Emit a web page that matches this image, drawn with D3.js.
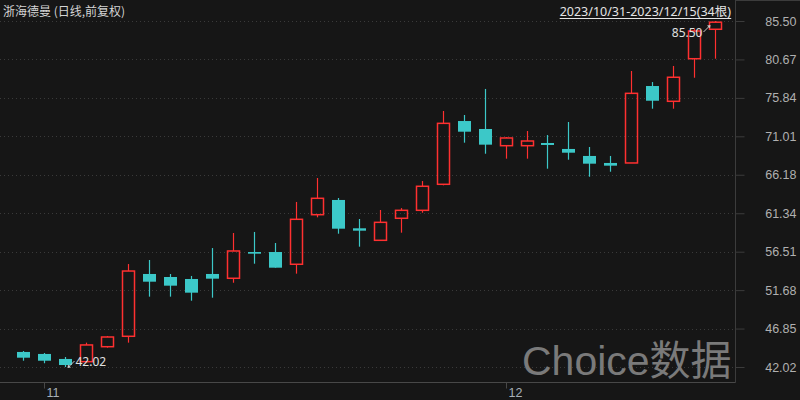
<!DOCTYPE html>
<html>
<head>
<meta charset="utf-8">
<script src="https://cdn.jsdelivr.net/npm/d3@7"></script>
<style>
  html, body { margin: 0; padding: 0; background: #161616; }
  svg { display: block; }
</style>
</head>
<body>
<div id="chart"></div>
<script>
// trading days 2023/10/31 - 2023/12/15
const dates = ["2023-10-31","2023-11-01","2023-11-02","2023-11-03","2023-11-06","2023-11-07","2023-11-08","2023-11-09","2023-11-10",
  "2023-11-13","2023-11-14","2023-11-15","2023-11-16","2023-11-17","2023-11-20","2023-11-21","2023-11-22","2023-11-23","2023-11-24",
  "2023-11-27","2023-11-28","2023-11-29","2023-11-30","2023-12-01","2023-12-04","2023-12-05","2023-12-06","2023-12-07","2023-12-08",
  "2023-12-11","2023-12-12","2023-12-13","2023-12-14","2023-12-15"];
const open  = [43.91,43.66,43.03,42.69,44.57,45.88,53.71,53.33,53.08,53.71,53.17,56.47,56.47,54.93,61.16,63.01,59.45,57.94,60.71,61.71,
  64.98,72.93,71.93,69.83,69.83,70.17,69.42,68.54,67.66,67.66,77.33,75.41,80.76,84.46];
const high  = [44.03,43.78,43.28,45.08,45.92,54.96,55.47,53.71,53.46,56.97,58.86,58.99,57.60,62.76,65.77,63.26,60.62,61.75,61.99,65.39,
  74.19,73.69,76.96,70.92,71.68,71.17,72.81,69.67,68.54,79.22,77.83,79.85,84.49,85.50];
const low   = [42.81,42.49,42.02,42.65,44.45,45.08,50.86,50.86,50.35,50.73,52.61,55.00,54.50,53.75,60.83,58.77,57.14,57.94,58.90,61.41,
  64.85,70.21,68.82,68.20,68.20,66.94,68.07,65.93,66.56,67.66,74.48,74.48,78.37,80.76];
const close = [43.19,42.81,42.27,44.79,45.79,54.08,52.74,52.24,51.36,53.12,56.60,56.26,54.50,60.58,63.22,59.40,59.15,60.20,61.71,64.73,
  72.64,71.59,69.96,70.80,70.42,69.92,68.95,67.57,67.32,76.41,75.48,78.43,84.24,85.35];
const yTicks = [42.02,46.85,51.68,56.51,61.34,66.18,71.01,75.84,80.67,85.50];
const monthLabels = ["11","12"];

const width = 800, height = 400;
const up = "#ff3030", down = "#3cc8c8";
const plotRight = 735.5, plotBottom = 382.5;

const bars = dates.map((d, i) => ({ date: d, o: open[i], h: high[i], l: low[i], c: close[i] }));

const svg = d3.select("#chart").append("svg")
  .attr("width", width).attr("height", height)
  .style("font-family", "'Noto Sans', 'Noto Sans CJK SC', sans-serif");

const x = d3.scaleBand().domain(dates).range([13, 13 + 34 * 20.96]).padding(0);
const y = d3.scaleLinear().domain([42.02, 85.50]).range([367, 21]);
const bw = 12;
const cx = d => Math.round(x(d) + x.bandwidth() / 2) + 0.5;

// grid
svg.append("g").selectAll("line").data(yTicks).join("line")
  .attr("x1", 0).attr("x2", plotRight)
  .attr("y1", d => Math.round(y(d)) + 0.5).attr("y2", d => Math.round(y(d)) + 0.5)
  .attr("stroke", "#3a3a3a").attr("stroke-dasharray", "1,3");

// watermark
svg.append("text").attr("x", 522).attr("y", 375)
  .attr("fill", "#7a7a7a").style("font-size", "41px")
  .style("font-family", "'Liberation Sans', 'Noto Sans CJK SC', sans-serif")
  .text("Choice数据");

// frame
svg.append("line").attr("x1", plotRight).attr("x2", plotRight).attr("y1", 0).attr("y2", plotBottom)
  .attr("stroke", "#3c3c3c");
svg.append("line").attr("x1", 0).attr("x2", plotRight).attr("y1", plotBottom).attr("y2", plotBottom)
  .attr("stroke", "#484848");
svg.append("line").attr("x1", plotRight).attr("x2", width).attr("y1", 0.5).attr("y2", 0.5)
  .attr("stroke", "#3c3c3c");

// right axis
const yAxis = svg.append("g")
  .attr("transform", `translate(${plotRight},0)`)
  .call(d3.axisRight(y).tickValues(yTicks).tickFormat(d3.format(".2f")).tickSize(9).tickPadding(22));
yAxis.select(".domain").remove();
yAxis.selectAll(".tick line").attr("stroke", "#3c3c3c");
yAxis.selectAll(".tick text").attr("fill", "#b0b0b0").style("font-size", "12.5px")
  .attr("text-anchor", "end").attr("x", 61);

// bottom axis: first trading day of each month
const firstOfMonth = dates.filter((d, i) => i > 0 && d.slice(5, 7) !== dates[i - 1].slice(5, 7));
const xAxis = svg.append("g")
  .attr("transform", `translate(0,${plotBottom})`)
  .call(d3.axisBottom(x).tickValues(firstOfMonth).tickSize(6)
    .tickFormat((d, i) => monthLabels[i]));
xAxis.select(".domain").remove();
xAxis.selectAll(".tick").attr("transform", d => `translate(${cx(d)},0)`);
xAxis.selectAll(".tick line").attr("stroke", "#484848");
xAxis.selectAll(".tick text").attr("fill", "#a8b0b8").style("font-size", "12.5px")
  .attr("text-anchor", "start").attr("x", 2).attr("y", 6);

// candles
const g = svg.append("g");
bars.forEach(b => {
  const c = cx(b.date);
  const rising = b.c >= b.o;
  const top = y(Math.max(b.o, b.c)), bot = y(Math.min(b.o, b.c));
  if (rising) {
    g.append("line").attr("x1", c).attr("x2", c).attr("y1", y(b.h)).attr("y2", top)
      .attr("stroke", up).attr("stroke-width", 1.2);
    g.append("line").attr("x1", c).attr("x2", c).attr("y1", bot).attr("y2", y(b.l))
      .attr("stroke", up).attr("stroke-width", 1.2);
    g.append("rect").attr("x", c - bw / 2).attr("y", top)
      .attr("width", bw).attr("height", Math.max(1, bot - top))
      .attr("fill", "none").attr("stroke", up).attr("stroke-width", 1.5);
  } else {
    g.append("line").attr("x1", c).attr("x2", c).attr("y1", y(b.h)).attr("y2", y(b.l))
      .attr("stroke", down).attr("stroke-width", 1.2);
    g.append("rect").attr("x", c - bw / 2 - 0.5).attr("y", top)
      .attr("width", bw + 1).attr("height", Math.max(1.5, bot - top))
      .attr("fill", down);
  }
});

// max / min markers
const iMax = d3.maxIndex(high), iMin = d3.minIndex(low);
const mx = cx(dates[iMax]), my = y(high[iMax]);
svg.append("line").attr("x1", mx - 12).attr("y1", my + 11).attr("x2", mx - 6).attr("y2", my + 5)
  .attr("stroke", "#c8c8c8");
svg.append("path").attr("d", `M${mx - 5},${my + 4}l-3.5,0.5l3,3z`).attr("fill", "#c8c8c8");
svg.append("text").attr("x", mx - 13).attr("y", my + 16).attr("text-anchor", "end")
  .attr("fill", "#e0e0e0").style("font-size", "12px").text(d3.format(".2f")(high[iMax]));

const nx = cx(dates[iMin]), ny = y(low[iMin]);
svg.append("line").attr("x1", nx + 9).attr("y1", ny - 6).attr("x2", nx + 3).attr("y2", ny)
  .attr("stroke", "#c8c8c8");
svg.append("path").attr("d", `M${nx + 2},${ny + 1}l0.5,-3.5l3,3z`).attr("fill", "#c8c8c8");
svg.append("text").attr("x", nx + 10).attr("y", ny - 1)
  .attr("fill", "#e0e0e0").style("font-size", "12px").text(d3.format(".2f")(low[iMin]));

// title and range
svg.append("text").attr("x", 3).attr("y", 16)
  .attr("fill", "#d4d4d4").style("font-size", "12px")
  .style("font-family", "'Noto Sans CJK SC', sans-serif")
  .text("浙海德曼 (日线,前复权)");
const rangeText = svg.append("text").attr("x", 731).attr("y", 16).attr("text-anchor", "end")
  .attr("fill", "#e4e4e4").style("font-size", "12.5px")
  .style("font-family", "'Noto Sans', 'Noto Sans CJK SC', sans-serif")
  .text(`${dates[0].replace(/-/g, "/")}-${dates[dates.length - 1].replace(/-/g, "/")}(${dates.length}根)`);
const rb = rangeText.node().getBBox();
svg.append("line").attr("x1", rb.x).attr("x2", rb.x + rb.width).attr("y1", 18.5).attr("y2", 18.5)
  .attr("stroke", "#e4e4e4");
</script>
</body>
</html>
